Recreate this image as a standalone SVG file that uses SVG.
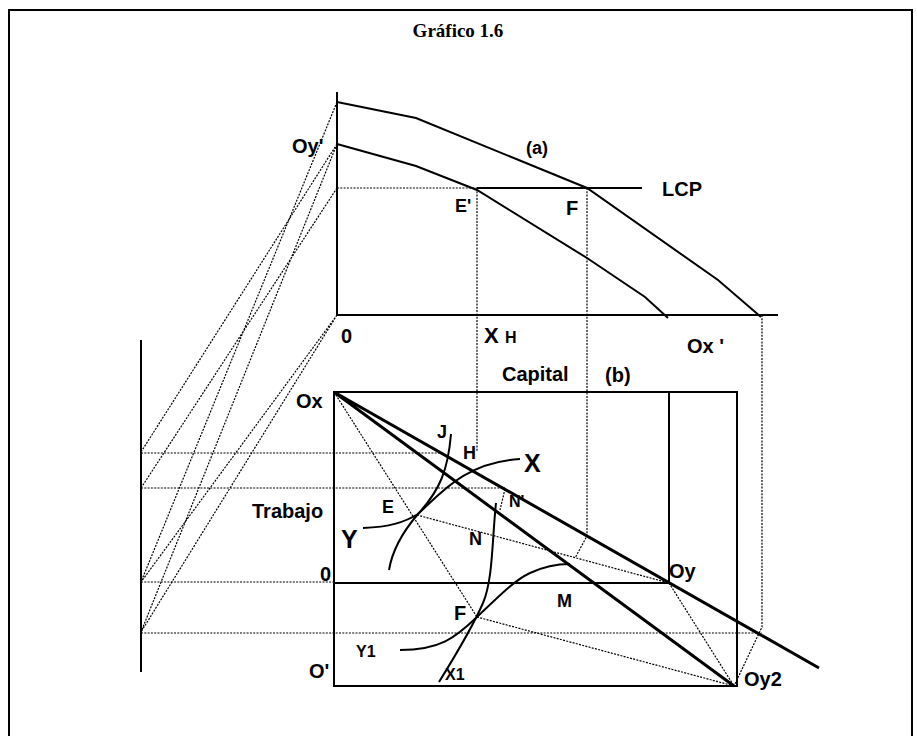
<svg xmlns="http://www.w3.org/2000/svg" width="917" height="736" viewBox="0 0 917 736">
<style>
.t{font-family:"Liberation Sans",Arial,sans-serif;font-weight:bold;fill:#000}
.s{stroke:#000;fill:none;stroke-width:2}
.k{stroke:#000;fill:none;stroke-width:3}
.d{stroke:#000;fill:none;stroke-width:1.2;stroke-dasharray:2,1.3}
</style>
<rect width="917" height="736" fill="#fff"/>
<g id="frame">
<path class="s" d="M9,736 V10 H912 V736"/>
</g>
<text class="t" x="458" y="37" text-anchor="middle" style="font-family:'Liberation Serif','Times New Roman',serif;font-size:19px">Gráfico 1.6</text>
<g id="connectors">
<path class="d" d="M337,144 L141,452 M337,188 L141,488 M337,102 L141,582 M337,144 L141,632 M337,315 L141,582 M337,315 L141,632"/>
<path class="d" d="M337,188 H477 M477,188 V452 M587,188 V536 L575,558 M762,315 V627 L734,686"/>
<path class="d" d="M141,453 H443 M141,488 H505 M141,582 H334 M141,633 H762"/>
<path class="d" d="M505,489 L500,510"/>
<path class="d" d="M334,392 L477,617 M417,515 L669,583 M477,617 L734,686 M669,583 L734,686"/>
</g>
<g id="panel-a">
<path class="s" d="M337,92 V315 H778"/>
<path class="s" d="M337,102 L416,118 L587,188 L718,280 L761,317"/>
<path class="s" d="M337,144 L416,166 L477,190 L587,258 L645,297 L668,318"/>
<path class="s" d="M477,188 H642"/>
<text class="t" x="292" y="153" style="font-size:20px">Oy'</text>
<text class="t" x="526" y="154" style="font-size:18px">(a)</text>
<text class="t" x="662" y="196" style="font-size:20px">LCP</text>
<text class="t" x="455" y="212" style="font-size:18px">E'</text>
<text class="t" x="566" y="215" style="font-size:20px">F</text>
<text class="t" x="341" y="343" style="font-size:20px">0</text>
<text class="t" x="484" y="343" style="font-size:22px">X</text>
<text class="t" x="505" y="343" style="font-size:16px">H</text>
<text class="t" x="687" y="353" style="font-size:20px">Ox '</text>
</g>
<g id="left-axis">
<path class="s" d="M141,340 V672"/>
</g>
<g id="panel-b">
<path class="s" d="M334,392 H737 V686 H334 Z"/>
<path class="s" d="M669,392 V583 H334"/>
<path class="k" d="M334,392 L734,686 M334,392 L819,668"/>
<path class="s" d="M363,528 C390,527 405,522 418,514 C440,494 465,462 520,459"/>
<path class="s" d="M451,434 C448,470 440,490 418,514 C400,535 392,552 389,570"/>
<path class="s" d="M496,503 C492,540 493,580 483,603 C477,617 465,640 439,682"/>
<path class="s" d="M400,650 C440,650 455,638 477,617 C500,595 515,580 530,573 C545,566 560,564 570,564"/>
<text class="t" x="502" y="381" style="font-size:20px">Capital</text>
<text class="t" x="605" y="382" style="font-size:20px">(b)</text>
<text class="t" x="296" y="408" style="font-size:20px">Ox</text>
<text class="t" x="437" y="438" style="font-size:18px">J</text>
<text class="t" x="463" y="459" style="font-size:18px">H</text>
<text class="t" x="524" y="472" style="font-size:25px">X</text>
<text class="t" x="509" y="507" style="font-size:16px">N'</text>
<text class="t" x="382" y="513" style="font-size:18px">E</text>
<text class="t" x="252" y="518" style="font-size:20px">Trabajo</text>
<text class="t" x="341" y="548" style="font-size:25px">Y</text>
<text class="t" x="469" y="545" style="font-size:18px">N</text>
<text class="t" x="320" y="581" style="font-size:20px">0</text>
<text class="t" x="669" y="578" style="font-size:20px">Oy</text>
<text class="t" x="557" y="607" style="font-size:18px">M</text>
<text class="t" x="454" y="620" style="font-size:20px">F</text>
<text class="t" x="356" y="657" style="font-size:16px">Y1</text>
<text class="t" x="445" y="680" style="font-size:16px">X1</text>
<text class="t" x="309" y="678" style="font-size:20px">O'</text>
<text class="t" x="744" y="686" style="font-size:20px">Oy2</text>
</g>
</svg>
